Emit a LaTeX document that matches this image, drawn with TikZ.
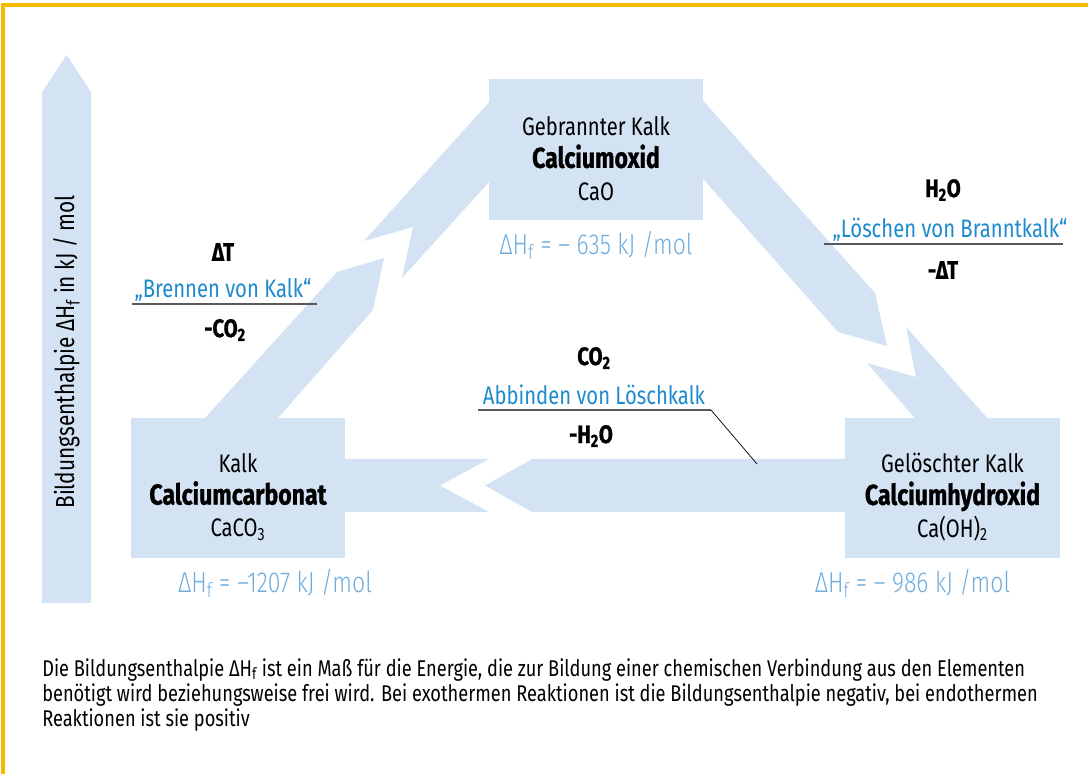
\documentclass[tikz,border=0pt]{standalone}
\usepackage{fontspec}
\setmainfont{Fira Sans}[FakeStretch=0.8, BoldFeatures={FakeBold=1}]
\newfontfamily\duenn{Fira Sans Light}[FakeStretch=0.8]
\usepackage{tikz}
\usetikzlibrary{positioning}
\definecolor{band}{RGB}{212,227,243}
\definecolor{kalkblau}{RGB}{28,138,204}
\definecolor{hblau}{RGB}{110,172,222}
\definecolor{rahmen}{RGB}{245,187,0}

\begin{document}
\begin{tikzpicture}[x=0.025cm, y=-0.025cm,
		box/.style={rectangle, fill=band, minimum width=5.35cm, minimum height=3.52cm},
		boxtext/.style={align=center, font=\fontsize{18}{23}\selectfont},
		dh/.style={text=hblau, font=\duenn\fontsize{20.5}{24}\selectfont},
		reakt/.style={font=\bfseries\fontsize{18}{22}\selectfont},
		vorgang/.style={text=kalkblau, font=\fontsize{18}{22}\selectfont},
		rule/.style={draw=gray!70!black, line width=1pt}]
		\useasboundingbox (0,0) rectangle (1088,774);
		\draw[rahmen, line width=2.2pt] (3,774) -- (3,5) -- (1088,5);
		
		% Achse
		\fill[band] (42,603) -- (42,92) -- (66.5,55) -- (91,92) -- (91,603) -- cycle;
		\node[rotate=90, font=\fontsize{18.5}{20}\selectfont] (achse) at (66.5,352) {Bildungsenthalpie ΔH\textsubscript{f} in kJ / mol};
		
		% Pfeile
		\fill[band] (205,418) -- (337,272) -- (384,258) -- (373,310) -- (278,418) -- cycle;
		\fill[band] (364,241) -- (500,90) -- (500,170) -- (402,278) -- (413,227) -- cycle;
		\fill[band] (690,86) -- (875,293) -- (887,346) -- (838,332) -- (690,164) -- cycle;
		\fill[band] (906,327) -- (998,430) -- (925,430) -- (867,363) -- (916,377) -- cycle;
		\fill[band] (850,459) -- (532,459) -- (485,485.5) -- (532,512) -- (850,512) -- cycle;
		\fill[band] (340,459) -- (489,459) -- (440,485.5) -- (489,512) -- (340,512) -- cycle;
		
		% Stoffe
		\node [box] (cao) at (596,149.5) {};
		\node [box] (caco) at (238,488) {};
		\node [box] (caoh) at (952.5,488) {};
		
		\node [boxtext, shift={(0,9)}] (caot) at (cao.center) {Gebrannter Kalk\\{\bfseries\fontsize{20.5}{23}\selectfont Calciumoxid}\\CaO};
		\node [boxtext, shift={(0,9)}] (cacot) at (caco.center) {Kalk\\{\bfseries\fontsize{20.5}{23}\selectfont Calciumcarbonat}\\CaCO\textsubscript{3}};
		\node [boxtext, shift={(0,9)}] (caoht) at (caoh.center) {Gelöschter Kalk\\{\bfseries\fontsize{20.5}{23}\selectfont Calciumhydroxid}\\Ca(OH)\textsubscript{2}};
		
		\node [dh, shift={(0,25)}] (caoh-h) at (cao.south) {ΔH\textsubscript{f} = – 635 kJ /mol};
		\node [dh, shift={(37,25)}] (caco-h) at (caco.south) {ΔH\textsubscript{f} = –1207 kJ /mol};
		\node [dh, shift={(-40,25)}] (caoh-h) at (caoh.south) {ΔH\textsubscript{f} = – 986 kJ /mol};
		
		% Brennen
		\node [vorgang] (brennen) at (223,290) {„Brennen von Kalk“};
		\node [reakt, shift={(0,-38)}] (dt1) at (brennen.center) {ΔT};
		\node [reakt, shift={(2,40)}] (co1) at (brennen.center) {-CO\textsubscript{2}};
		\draw[rule] (132,304) -- (317,304);
		
		% Loeschen
		\node [vorgang] (loeschen) at (950,230) {„Löschen von Branntkalk“};
		\node [reakt, shift={(-7,-40)}] (wasser1) at (loeschen.center) {H\textsubscript{2}O};
		\node [reakt, shift={(-7,40)}] (dt2) at (loeschen.center) {-ΔT};
		\draw[rule] (824,244) -- (1063,244);
		
		% Abbinden
		\node [vorgang] (abbinden) at (594,395) {Abbinden von Löschkalk};
		\node [reakt, shift={(0,-37)}] (co2) at (abbinden.center) {CO\textsubscript{2}};
		\node [reakt, shift={(-3,41)}] (wasser2) at (abbinden.center) {-H\textsubscript{2}O};
		\coordinate (abende) at (711,410);
		\coordinate (abpfeil) at (757,464);
		\draw[rule] (478,410) -- (abende);
		\draw[black, line width=0.5pt] (abende) -- (abpfeil);
		
		% Erklaerung
		\node [anchor=north west, align=left, inner sep=0pt, font=\fontsize{16.2}{17.8}\selectfont] (erkl) at (42,658) {Die Bildungsenthalpie ΔH\textsubscript{f} ist ein Maß für die Energie, die zur Bildung einer chemischen Verbindung aus den Elementen\\benötigt wird beziehungsweise frei wird. Bei exothermen Reaktionen ist die Bildungsenthalpie negativ, bei endothermen\\Reaktionen ist sie positiv};
	\end{tikzpicture}
\end{document}
